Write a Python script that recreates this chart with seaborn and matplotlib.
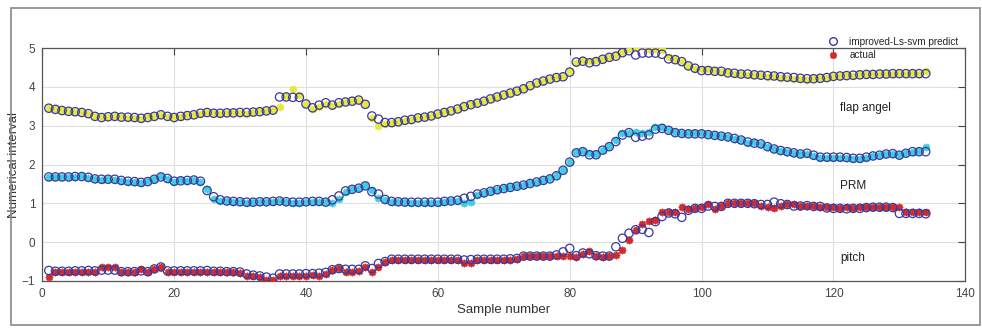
import matplotlib
matplotlib.use('Agg')
import matplotlib.pyplot as plt
from matplotlib.lines import Line2D
from matplotlib.patches import Rectangle
import seaborn as sns
import numpy as np

samples = list(range(1, 135))

flap_pred = [3.45, 3.42, 3.39, 3.37, 3.36, 3.34, 3.31, 3.24, 3.21, 3.23,
             3.24, 3.22, 3.22, 3.21, 3.19, 3.21, 3.24, 3.28, 3.24, 3.21,
             3.24, 3.26, 3.28, 3.32, 3.34, 3.32, 3.32, 3.33, 3.33, 3.34,
             3.34, 3.35, 3.36, 3.38, 3.40, 3.74, 3.74, 3.73, 3.73, 3.56,
             3.46, 3.53, 3.59, 3.53, 3.59, 3.61, 3.63, 3.66, 3.55, 3.25,
             3.17, 3.08, 3.08, 3.10, 3.14, 3.16, 3.20, 3.22, 3.25, 3.30,
             3.34, 3.38, 3.43, 3.49, 3.54, 3.58, 3.63, 3.69, 3.74, 3.79,
             3.84, 3.89, 3.95, 4.03, 4.10, 4.15, 4.20, 4.24, 4.26, 4.38,
             4.64, 4.66, 4.62, 4.65, 4.71, 4.76, 4.79, 4.88, 4.93, 4.82,
             4.87, 4.87, 4.87, 4.84, 4.72, 4.70, 4.65, 4.54, 4.48, 4.42,
             4.42, 4.40, 4.40, 4.36, 4.35, 4.33, 4.33, 4.31, 4.30, 4.29,
             4.28, 4.26, 4.25, 4.24, 4.22, 4.21, 4.21, 4.22, 4.24, 4.27,
             4.28, 4.29, 4.30, 4.31, 4.32, 4.32, 4.33, 4.33, 4.34, 4.34,
             4.34, 4.34, 4.34, 4.34]
flap_act = [3.46, 3.42, 3.40, 3.38, 3.36, 3.35, 3.30, 3.25, 3.22, 3.22,
            3.25, 3.23, 3.21, 3.20, 3.17, 3.22, 3.25, 3.27, 3.23, 3.22,
            3.23, 3.27, 3.28, 3.31, 3.35, 3.33, 3.31, 3.33, 3.34, 3.33,
            3.30, 3.36, 3.37, 3.37, 3.40, 3.48, 3.76, 3.94, 3.80, 3.55,
            3.42, 3.48, 3.56, 3.50, 3.57, 3.62, 3.64, 3.67, 3.56, 3.20,
            3.00, 3.04, 3.07, 3.10, 3.13, 3.15, 3.19, 3.23, 3.26, 3.31,
            3.35, 3.37, 3.44, 3.50, 3.55, 3.59, 3.64, 3.70, 3.75, 3.79,
            3.85, 3.90, 3.96, 4.02, 4.11, 4.16, 4.21, 4.25, 4.27, 4.42,
            4.62, 4.69, 4.66, 4.68, 4.72, 4.78, 4.82, 4.90, 4.97, 5.02,
            5.04, 4.97, 4.98, 4.95, 4.78, 4.72, 4.64, 4.55, 4.47, 4.45,
            4.46, 4.42, 4.38, 4.37, 4.34, 4.32, 4.31, 4.30, 4.31, 4.25,
            4.27, 4.24, 4.23, 4.20, 4.20, 4.18, 4.22, 4.23, 4.24, 4.27,
            4.29, 4.30, 4.28, 4.32, 4.33, 4.33, 4.35, 4.34, 4.33, 4.35,
            4.34, 4.35, 4.34, 4.40]

prm_pred = [1.68, 1.68, 1.68, 1.68, 1.69, 1.69, 1.67, 1.63, 1.62, 1.62,
            1.62, 1.59, 1.57, 1.56, 1.54, 1.56, 1.62, 1.68, 1.64, 1.57,
            1.58, 1.59, 1.60, 1.57, 1.33, 1.17, 1.09, 1.06, 1.05, 1.04,
            1.03, 1.03, 1.04, 1.04, 1.05, 1.06, 1.04, 1.03, 1.03, 1.04,
            1.05, 1.05, 1.03, 1.09, 1.19, 1.32, 1.36, 1.39, 1.45, 1.30,
            1.24, 1.10, 1.05, 1.04, 1.03, 1.03, 1.03, 1.03, 1.03, 1.03,
            1.05, 1.06, 1.08, 1.13, 1.18, 1.24, 1.27, 1.31, 1.35, 1.38,
            1.41, 1.44, 1.47, 1.51, 1.55, 1.59, 1.63, 1.71, 1.85, 2.06,
            2.30, 2.33, 2.25, 2.25, 2.37, 2.46, 2.59, 2.76, 2.82, 2.70,
            2.73, 2.76, 2.91, 2.93, 2.88, 2.82, 2.80, 2.79, 2.79, 2.79,
            2.77, 2.75, 2.73, 2.71, 2.67, 2.63, 2.58, 2.55, 2.53, 2.46,
            2.40, 2.36, 2.33, 2.30, 2.27, 2.29, 2.24, 2.19, 2.19, 2.19,
            2.19, 2.18, 2.16, 2.16, 2.19, 2.22, 2.24, 2.27, 2.28, 2.24,
            2.29, 2.33, 2.33, 2.33]
prm_act = [1.67, 1.68, 1.69, 1.68, 1.68, 1.70, 1.66, 1.62, 1.61, 1.63,
           1.61, 1.58, 1.56, 1.55, 1.52, 1.57, 1.63, 1.70, 1.63, 1.56,
           1.59, 1.58, 1.61, 1.56, 1.38, 1.12, 1.06, 1.05, 1.04, 1.03,
           1.02, 1.03, 1.03, 1.04, 1.04, 1.05, 1.03, 1.02, 1.02, 1.03,
           1.04, 1.04, 1.03, 1.02, 1.12, 1.30, 1.37, 1.40, 1.46, 1.35,
           1.14, 1.08, 1.04, 1.03, 1.03, 1.02, 1.02, 1.02, 1.02, 1.02,
           1.04, 1.05, 1.06, 1.02, 1.03, 1.22, 1.27, 1.32, 1.35, 1.39,
           1.41, 1.44, 1.48, 1.52, 1.54, 1.60, 1.64, 1.72, 1.86, 2.07,
           2.32, 2.34, 2.30, 2.28, 2.38, 2.47, 2.62, 2.82, 2.80, 2.85,
           2.82, 2.85, 2.97, 2.96, 2.90, 2.83, 2.82, 2.80, 2.81, 2.80,
           2.78, 2.76, 2.73, 2.70, 2.66, 2.62, 2.55, 2.57, 2.52, 2.45,
           2.41, 2.36, 2.32, 2.29, 2.28, 2.27, 2.22, 2.18, 2.18, 2.18,
           2.18, 2.17, 2.15, 2.15, 2.18, 2.21, 2.24, 2.26, 2.28, 2.25,
           2.30, 2.33, 2.34, 2.46]

pitch_pred = [-0.73, -0.75, -0.75, -0.75, -0.74, -0.74, -0.73, -0.74, -0.72, -0.72,
              -0.72, -0.76, -0.76, -0.76, -0.74, -0.76, -0.69, -0.64, -0.74, -0.74,
              -0.74, -0.74, -0.74, -0.74, -0.73, -0.75, -0.75, -0.76, -0.76, -0.77,
              -0.82, -0.85, -0.87, -0.90, -0.93, -0.82, -0.82, -0.82, -0.82, -0.81,
              -0.81, -0.80, -0.78, -0.71, -0.68, -0.70, -0.70, -0.70, -0.61, -0.68,
              -0.55, -0.50, -0.44, -0.44, -0.44, -0.44, -0.44, -0.44, -0.44, -0.44,
              -0.44, -0.44, -0.44, -0.46, -0.45, -0.44, -0.44, -0.44, -0.44, -0.44,
              -0.43, -0.42, -0.36, -0.36, -0.36, -0.36, -0.36, -0.33, -0.25, -0.16,
              -0.35, -0.28, -0.30, -0.35, -0.36, -0.36, -0.12, 0.10, 0.23, 0.32,
              0.33, 0.25, 0.53, 0.66, 0.75, 0.73, 0.64, 0.82, 0.87, 0.87,
              0.93, 0.92, 0.92, 1.00, 1.00, 1.00, 1.00, 0.99, 0.97, 0.97,
              1.03, 0.99, 0.97, 0.93, 0.93, 0.94, 0.92, 0.92, 0.88, 0.87,
              0.87, 0.86, 0.87, 0.87, 0.89, 0.90, 0.90, 0.90, 0.89, 0.74,
              0.74, 0.74, 0.74, 0.73]
pitch_act = [-0.89, -0.78, -0.78, -0.78, -0.77, -0.77, -0.78, -0.77, -0.65, -0.65,
             -0.65, -0.78, -0.78, -0.77, -0.68, -0.77, -0.68, -0.63, -0.78, -0.77,
             -0.78, -0.77, -0.78, -0.77, -0.76, -0.78, -0.78, -0.78, -0.78, -0.79,
             -0.87, -0.88, -0.90, -0.97, -0.98, -0.86, -0.86, -0.87, -0.86, -0.86,
             -0.85, -0.86, -0.83, -0.73, -0.67, -0.76, -0.77, -0.75, -0.65, -0.77,
             -0.65, -0.52, -0.45, -0.45, -0.45, -0.45, -0.45, -0.45, -0.45, -0.45,
             -0.45, -0.45, -0.45, -0.55, -0.55, -0.45, -0.45, -0.45, -0.45, -0.45,
             -0.45, -0.44, -0.36, -0.36, -0.36, -0.36, -0.36, -0.36, -0.36, -0.36,
             -0.37, -0.30, -0.22, -0.36, -0.37, -0.36, -0.33, -0.20, 0.05, 0.30,
             0.47, 0.55, 0.57, 0.78, 0.78, 0.78, 0.90, 0.85, 0.88, 0.90,
             0.99, 0.86, 0.92, 1.00, 1.00, 1.00, 1.00, 1.00, 0.93, 0.90,
             0.89, 0.92, 0.99, 0.99, 0.93, 0.92, 0.92, 0.91, 0.90, 0.90,
             0.89, 0.90, 0.89, 0.90, 0.90, 0.91, 0.90, 0.91, 0.90, 0.90,
             0.78, 0.78, 0.78, 0.78]

series_labels = ['flap angel', 'PRM', 'pitch']
label_y = [3.45, 1.45, -0.4]
actual_colors = ['#e8e83a', '#40cde0', '#d42a2a']
pred_color = '#3a3a9e'

sns.set_style('white')
plt.rcParams['font.family'] = ['Liberation Sans', 'DejaVu Sans']

fig = plt.figure(figsize=(9.82, 3.29), dpi=100)
ax = fig.add_axes([0.043, 0.146, 0.940, 0.708])

star = (8, 2, 0)
pairs = [(flap_act, flap_pred), (prm_act, prm_pred), (pitch_act, pitch_pred)]
for (act, pred), col in zip(pairs, actual_colors):
    sns.scatterplot(x=samples, y=act, ax=ax, marker=star, s=18,
                    color=col, edgecolor=col, linewidth=1.3, zorder=3)
    sns.scatterplot(x=samples, y=pred, ax=ax, marker='o', s=36,
                    facecolor='none', edgecolor=pred_color, linewidth=0.9, zorder=4)

for lab, ly in zip(series_labels, label_y):
    ax.text(121, ly, lab, fontsize=8.5, color='#222222', va='center')

ax.set_xlim(0, 140)
ax.set_ylim(-1, 5)
ax.set_xticks(range(0, 141, 20))
ax.set_yticks(range(-1, 6))
ax.grid(True, color='#e0e0e0', linewidth=0.8)
ax.tick_params(direction='in', length=5, top=True, right=True,
               labelsize=8.5, colors='#444444', labelcolor='#444444', pad=5)
for sp in ax.spines.values():
    sp.set_color('#555555')
    sp.set_linewidth(0.9)
ax.set_xlabel('Sample number', fontsize=9.5, color='#333333', labelpad=3)
ax.set_ylabel('Numerical interval', fontsize=9.5, color='#333333')
ax.yaxis.set_label_coords(-0.024, 0.5)

handles = [Line2D([], [], linestyle='none', marker='o', markersize=5.5,
                  markerfacecolor='none', markeredgecolor=pred_color),
           Line2D([], [], linestyle='none', marker=star, markersize=5,
                  markeredgecolor='#d42a2a', markeredgewidth=1.2)]
ax.legend(handles, ['improved-Ls-svm predict', 'actual'], loc='lower right',
          bbox_to_anchor=(0.997, 0.93), frameon=False, fontsize=7.2,
          handletextpad=0.6, labelspacing=0.35, borderaxespad=0)

fig.patches.append(Rectangle((0.011, 0.012), 0.987, 0.963, transform=fig.transFigure,
                             fill=False, edgecolor='#888888', linewidth=1.2))

fig.savefig('out.png', dpi=100)
